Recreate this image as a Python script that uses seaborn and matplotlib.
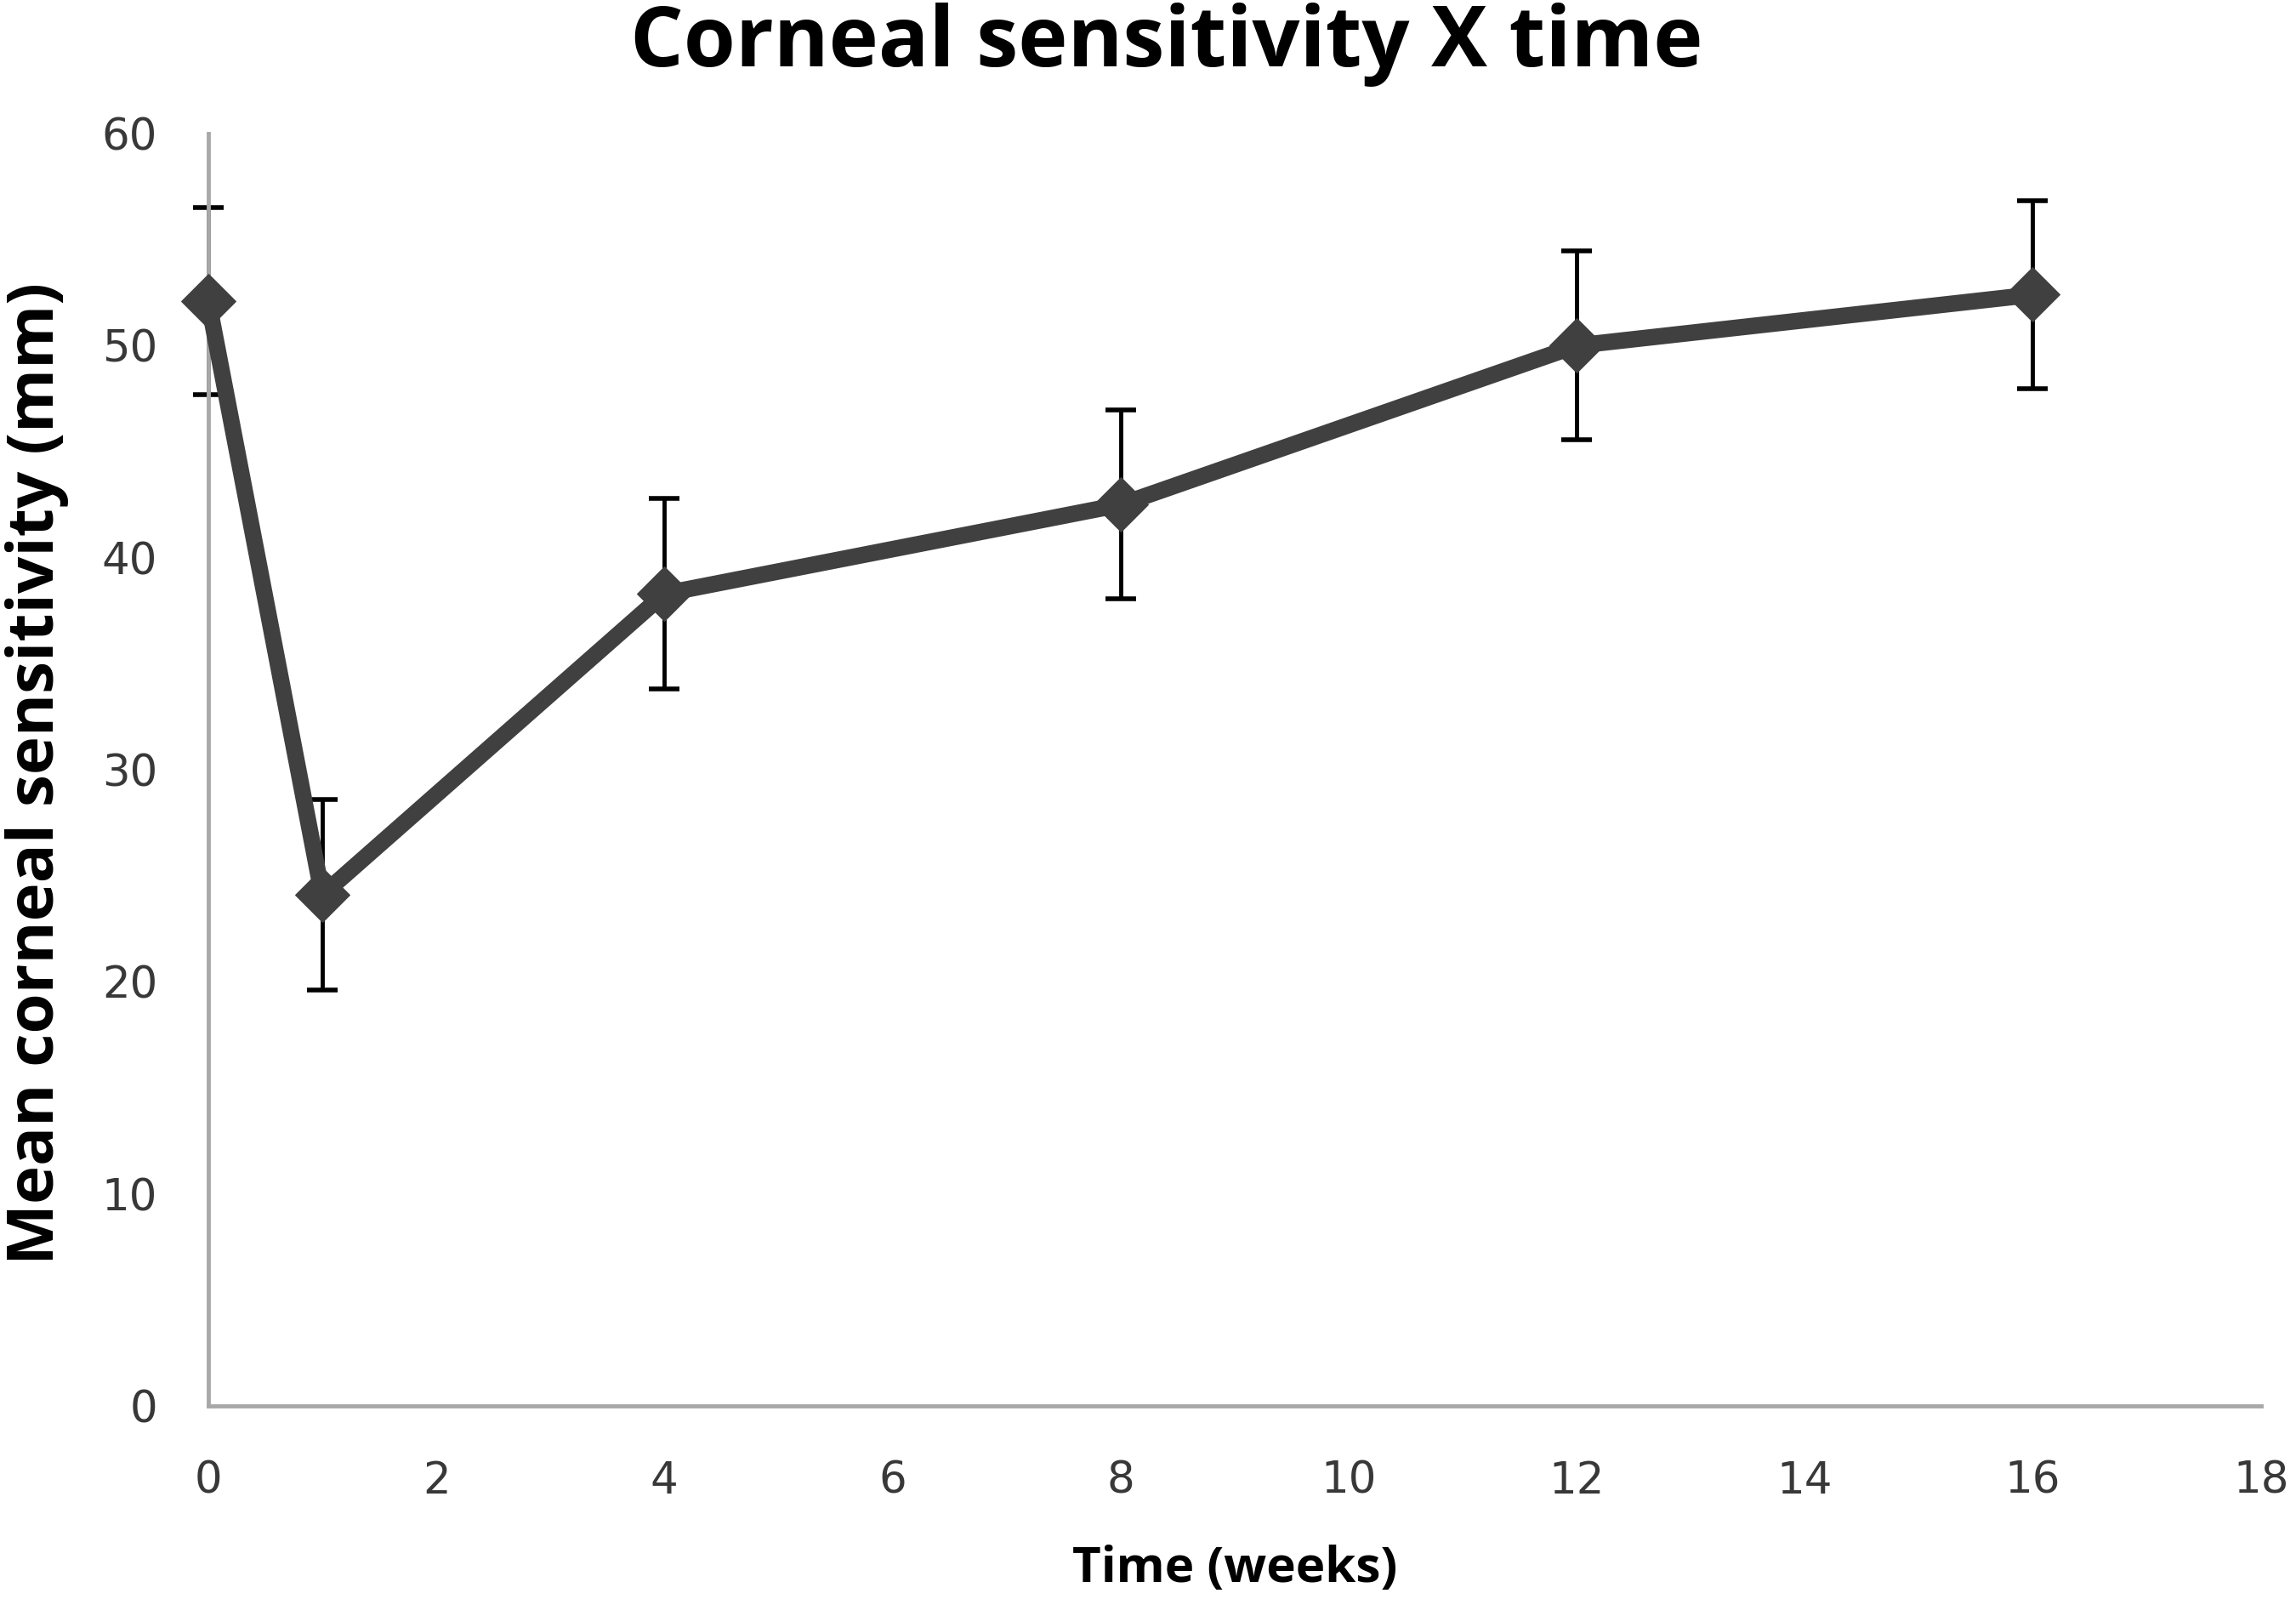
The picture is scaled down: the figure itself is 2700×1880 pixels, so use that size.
import matplotlib
matplotlib.use("Agg")
import matplotlib.pyplot as plt
import seaborn as sns
import pandas as pd

# valores
weeks = [0, 1, 4, 8, 12, 16]
mean_sens = [52.1, 24.1, 38.3, 42.5, 50.0, 52.4]
err_sens = [4.4, 4.5, 4.5, 4.45, 4.45, 4.45]
x_ticks = [0, 2, 4, 6, 8, 10, 12, 14, 16, 18]
y_ticks = [0, 10, 20, 30, 40, 50, 60]

df = pd.DataFrame({"week": weeks, "mean": mean_sens, "err": err_sens})

sns.set_theme(style="white")
plt.rcParams['font.family'] = ['DejaVu Sans']

fig = plt.figure(figsize=(27, 18.8), dpi=100)
ax = fig.add_axes([0.0907, 0.1207, 0.894, 0.7958])

# barras de erro por baixo da linha
eb = ax.errorbar(df["week"], df["mean"], yerr=df["err"], fmt='none',
                 ecolor='black', elinewidth=3.5, capsize=13, capthick=4, zorder=2)
for art in eb.lines[1] + eb.lines[2]:
    art.set_clip_on(False)

sns.lineplot(data=df, x="week", y="mean", ax=ax, color='#404040',
             linewidth=14, marker='D', markersize=33,
             markeredgecolor='#404040', errorbar=None, zorder=3, clip_on=False)

ax.set_xlim(0, 18)
ax.set_ylim(0, 60)
ax.set_xticks(x_ticks)
ax.set_yticks(y_ticks)

for side in ['top', 'right']:
    ax.spines[side].set_visible(False)
for side in ['left', 'bottom']:
    ax.spines[side].set_color('#a8a8a8')
    ax.spines[side].set_linewidth(3.5)

ax.tick_params(axis='both', which='major', direction='out', length=16,
               width=2.5, color='#b4b4b4', labelsize=37, labelcolor='#383838')
ax.tick_params(axis='y', pad=27)
ax.tick_params(axis='x', pad=30)

ax.set_xlabel("Time (weeks)", fontsize=42, fontweight='bold',
              family=['Open Sans', 'DejaVu Sans'], color='black')
ax.xaxis.set_label_coords(0.5, -0.128)
ax.xaxis.label.set_verticalalignment('center')

ax.set_ylabel("Mean corneal sensitivity (mm)", fontsize=55, fontweight='bold',
              family=['Open Sans', 'DejaVu Sans'], color='black')
ax.yaxis.set_label_coords(-0.0835, 0.497)
ax.yaxis.label.set_verticalalignment('center')

fig.suptitle("Corneal sensitivity X time", x=0.508, y=0.972, va='center',
             fontsize=71, fontweight='bold', family=['Open Sans', 'DejaVu Sans'],
             color='black')

fig.savefig("out.png", dpi=100, facecolor='white')
plt.close(fig)
